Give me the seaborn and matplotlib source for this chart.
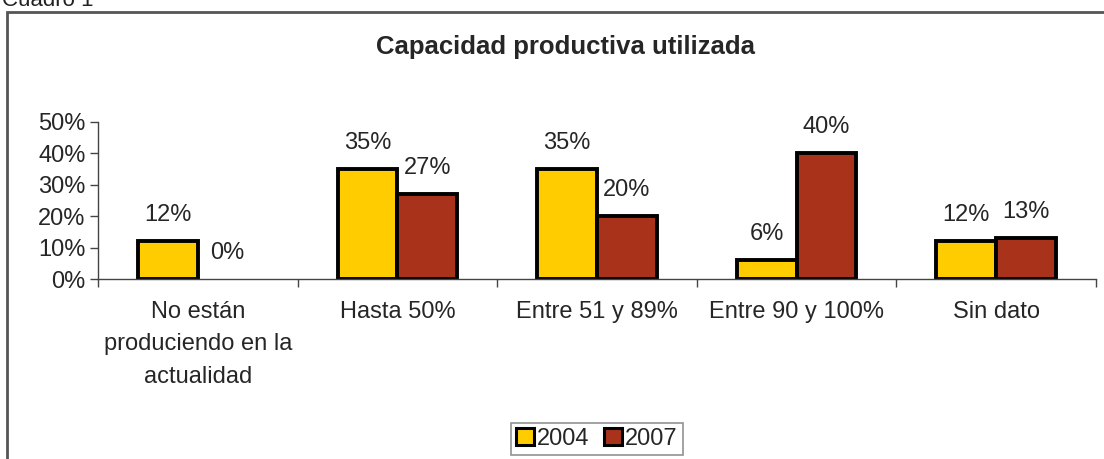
import matplotlib
matplotlib.use('Agg')
import matplotlib.pyplot as plt
import seaborn as sns
import pandas as pd
from matplotlib.patches import Rectangle
from matplotlib.ticker import FixedLocator, PercentFormatter

#%% Data
categories = ['No están\nproduciendo en la\nactualidad', 'Hasta 50%', 'Entre 51 y 89%',
              'Entre 90 y 100%', 'Sin dato']
years = ['2004', '2007']
vals_2004 = [12, 35, 35, 6, 12]
vals_2007 = [0, 27, 20, 40, 13]
colors = ['#FFCC00', '#A8331A']

df = pd.DataFrame({
    'categoria': categories * 2,
    'anio': [years[0]] * len(categories) + [years[1]] * len(categories),
    'valor': vals_2004 + vals_2007,
})

#%% Plot
sns.set_style('white')
plt.rcParams['font.family'] = ['Liberation Sans', 'DejaVu Sans']

fig = plt.figure(figsize=(11.04, 4.59), dpi=100)
ax = fig.add_axes([98/1104, 1 - 279/459, (1096 - 98)/1104, (279 - 122)/459])

sns.barplot(data=df, x='categoria', y='valor', hue='anio', order=categories,
            hue_order=years, palette=colors, width=0.6, edgecolor='black',
            linewidth=2.8, saturation=1, ax=ax)

for cont in ax.containers:
    for bar in cont:
        h = bar.get_height()
        if h == 0:
            bar.set_visible(False)
        ax.annotate(f'{h:.0f}%', (bar.get_x() + bar.get_width() / 2, h),
                    xytext=(0, 19), textcoords='offset points',
                    ha='center', va='center', fontsize=17)

ax.set_xlim(-0.5, 4.5)
ax.set_ylim(0, 50)
ax.set_yticks([0, 10, 20, 30, 40, 50])
ax.yaxis.set_major_formatter(PercentFormatter(decimals=0))
ax.xaxis.set_minor_locator(FixedLocator([-0.5, 0.5, 1.5, 2.5, 3.5, 4.5]))
ax.tick_params(axis='x', which='major', length=0, pad=16, labelsize=17)
ax.tick_params(axis='x', which='minor', length=6, width=1, direction='out',
               color='#444444', bottom=True)
ax.tick_params(axis='y', length=6, width=1, direction='out', color='#444444',
               left=True, labelsize=17, pad=3)
for lab in ax.get_xticklabels():
    lab.set_linespacing(1.6)
    lab.set_va('top')

ax.set_xlabel('')
ax.set_ylabel('')
for s in ['top', 'right']:
    ax.spines[s].set_visible(False)
for s in ['left', 'bottom']:
    ax.spines[s].set_color('#444444')
    ax.spines[s].set_linewidth(1)

leg = ax.legend(loc='center', bbox_to_anchor=(597/1104, 1 - 439/459),
                bbox_transform=fig.transFigure, ncol=2, frameon=True,
                fancybox=False, edgecolor='#777777', fontsize=17,
                handlelength=0.75, handleheight=0.75, handletextpad=0.15,
                columnspacing=0.6, borderpad=0.2, borderaxespad=0)
leg.get_frame().set_linewidth(1.2)
for h in leg.legend_handles:
    h.set_edgecolor('black')
    h.set_linewidth(2.2)

fig.text(565/1104, 1 - 47/459, 'Capacidad productiva utilizada',
         ha='center', va='center', fontsize=18.5, fontweight='bold')
fig.text(2/1104, 1 - 0/459, 'Cuadro 1', ha='left', va='center',
         fontsize=16, color='#222222')

fig.patches.append(Rectangle((7/1104, -0.1), 1.2, 1.1 - 12/459,
                             transform=fig.transFigure, fill=False,
                             edgecolor='#555555', linewidth=2))

fig.savefig('out.png', dpi=100)
